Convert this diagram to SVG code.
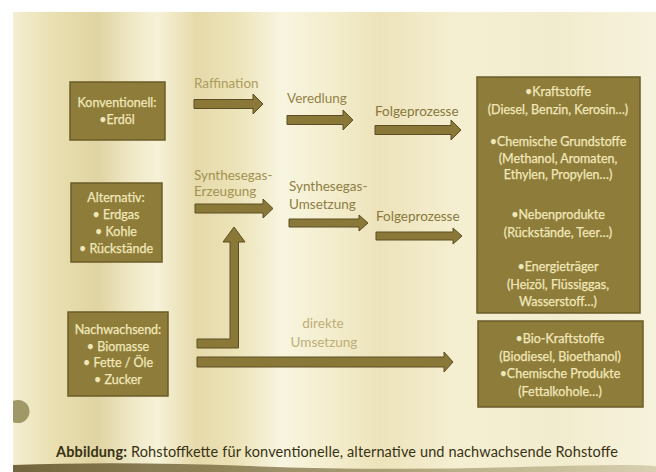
<svg xmlns="http://www.w3.org/2000/svg" width="656" height="472" viewBox="0 0 656 472">
<defs>
<linearGradient id="paper" gradientUnits="userSpaceOnUse" x1="0" y1="0" x2="656" y2="0">
<stop offset="0.02" stop-color="#f4efd2"/>
<stop offset="0.08" stop-color="#e9dfb0"/>
<stop offset="0.15" stop-color="#e0d4a2"/>
<stop offset="0.2" stop-color="#efe8c6"/>
<stop offset="0.24" stop-color="#f6f2d8"/>
<stop offset="0.3" stop-color="#e6daaa"/>
<stop offset="0.36" stop-color="#ece3b8"/>
<stop offset="0.43" stop-color="#f8f5e0"/>
<stop offset="0.5" stop-color="#f4eece"/>
<stop offset="0.58" stop-color="#ede3bb"/>
<stop offset="0.7" stop-color="#f5efd2"/>
<stop offset="0.85" stop-color="#f2ecce"/>
<stop offset="1" stop-color="#f6f2dc"/>
</linearGradient>
<linearGradient id="edge" gradientUnits="userSpaceOnUse" x1="0" y1="0" x2="656" y2="0">
<stop offset="0" stop-color="#6a5c34" stop-opacity="0.95"/>
<stop offset="0.5" stop-color="#85784c" stop-opacity="0.75"/>
<stop offset="1" stop-color="#a89c70" stop-opacity="0.4"/>
</linearGradient>
</defs>
<style>
.box{fill:#8e7c3a;stroke:#6b5c28;stroke-width:1.5}
.bt{font-family:Lato,"Open Sans","Liberation Sans",sans-serif;font-size:12.5px;fill:#f1e8ba;stroke:#f1e8ba;stroke-width:0.25;text-anchor:middle}
.lbl{font-family:Lato,"Open Sans","Liberation Sans",sans-serif;font-size:13.5px;fill:#a29252}
.arr{fill:#8a7838;stroke:#5c4e22;stroke-width:1}
.cap{font-family:Lato,"Open Sans","Liberation Sans",sans-serif;font-size:14.5px;fill:#383214}
</style>
<rect width="656" height="472" fill="#ffffff"/>
<rect x="13" y="12" width="643" height="460" fill="url(#paper)"/>
<path d="M13,465 Q120,461 250,466 T520,467 T656,467 L656,472 L13,472 Z" fill="url(#edge)"/>
<circle cx="18" cy="411.5" r="11.5" fill="#a09866"/>
<rect x="0" y="395" width="13" height="35" fill="#ffffff"/>

<g id="connectors">
<polygon class="arr" points="194,99.5 253,99.5 253,94 263,104 253,114 253,108.5 194,108.5"/>
<polygon class="arr" points="287,115.5 343,115.5 343,110 353,120 343,130 343,124.5 287,124.5"/>
<polygon class="arr" points="375,125.5 451,125.5 451,120 461,130 451,140 451,134.5 375,134.5"/>
<polygon class="arr" points="195,204 263,204 263,199 273,208.5 263,218 263,213 195,213"/>
<polygon class="arr" points="289,219 359,219 359,215 368,223 359,231 359,227 289,227"/>
<polygon class="arr" points="376,232 453,232 453,228 462,236 453,244 453,240 376,240"/>
<polygon class="arr" points="197,339 230,339 230,242 223,242 234,227 245,242 238.5,242 238.5,348 197,348"/>
<polygon class="arr" points="197,357 444,357 444,352 453,362 444,372 444,367 197,367"/>
</g>

<g id="label-raffination"><text class="lbl" x="194" y="88" style="fill:#ad9d60">Raffination</text></g>
<g id="label-veredlung"><text class="lbl" x="287" y="103" style="fill:#93834a">Veredlung</text></g>
<g id="label-folge1"><text class="lbl" x="375" y="116" style="fill:#88783c">Folgeprozesse</text></g>
<g id="label-sg-erz"><text class="lbl" x="194" y="180">Synthesegas-</text><text class="lbl" x="194" y="196">Erzeugung</text></g>
<g id="label-sg-ums"><text class="lbl" x="289" y="191" style="fill:#8e7e44">Synthesegas-</text><text class="lbl" x="289" y="209" style="fill:#8e7e44">Umsetzung</text></g>
<g id="label-folge2"><text class="lbl" x="376" y="221" style="fill:#88783c">Folgeprozesse</text></g>
<g id="label-direkt"><text class="lbl" x="323" y="328" text-anchor="middle" style="fill:#bdae78">direkte</text><text class="lbl" x="324" y="347" text-anchor="middle" style="fill:#bdae78">Umsetzung</text></g>

<g id="konventionell">
<rect class="box" x="70" y="82" width="95" height="58"/>
<text class="bt" x="117" y="107">Konventionell:</text>
<text class="bt" x="117" y="124">•Erdöl</text>
</g>
<g id="alternativ">
<rect class="box" x="71" y="183" width="91" height="79"/>
<text class="bt" x="116" y="202">Alternativ:</text>
<text class="bt" x="116" y="219">• Erdgas</text>
<text class="bt" x="116" y="236">• Kohle</text>
<text class="bt" x="116" y="253">• Rückstände</text>
</g>
<g id="nachwachsend">
<rect class="box" x="68" y="312" width="100" height="84"/>
<text class="bt" x="118" y="334">Nachwachsend:</text>
<text class="bt" x="118" y="351">• Biomasse</text>
<text class="bt" x="118" y="367">• Fette / Öle</text>
<text class="bt" x="118" y="384">• Zucker</text>
</g>
<g id="produkte">
<rect class="box" x="477" y="77" width="163" height="236"/>
<text class="bt" x="558" y="96">•Kraftstoffe</text>
<text class="bt" x="558" y="114">(Diesel, Benzin, Kerosin…)</text>
<text class="bt" x="558" y="146">•Chemische Grundstoffe</text>
<text class="bt" x="558" y="163">(Methanol, Aromaten,</text>
<text class="bt" x="558" y="179">Ethylen, Propylen…)</text>
<text class="bt" x="558" y="219">•Nebenprodukte</text>
<text class="bt" x="558" y="237">(Rückstände, Teer…)</text>
<text class="bt" x="558" y="271">•Energieträger</text>
<text class="bt" x="558" y="289">(Heizöl, Flüssiggas,</text>
<text class="bt" x="558" y="306">Wasserstoff…)</text>
</g>
<g id="bioprodukte">
<rect class="box" x="478" y="321" width="165" height="86"/>
<text class="bt" x="560" y="343">•Bio-Kraftstoffe</text>
<text class="bt" x="560" y="361">(Biodiesel, Bioethanol)</text>
<text class="bt" x="560" y="378">•Chemische Produkte</text>
<text class="bt" x="560" y="396">(Fettalkohole…)</text>
</g>
<g id="caption">
<text class="cap" x="56" y="457" textLength="562" lengthAdjust="spacing"><tspan font-weight="bold">Abbildung:</tspan> Rohstoffkette für konventionelle, alternative und nachwachsende Rohstoffe</text>
</g>
</svg>
